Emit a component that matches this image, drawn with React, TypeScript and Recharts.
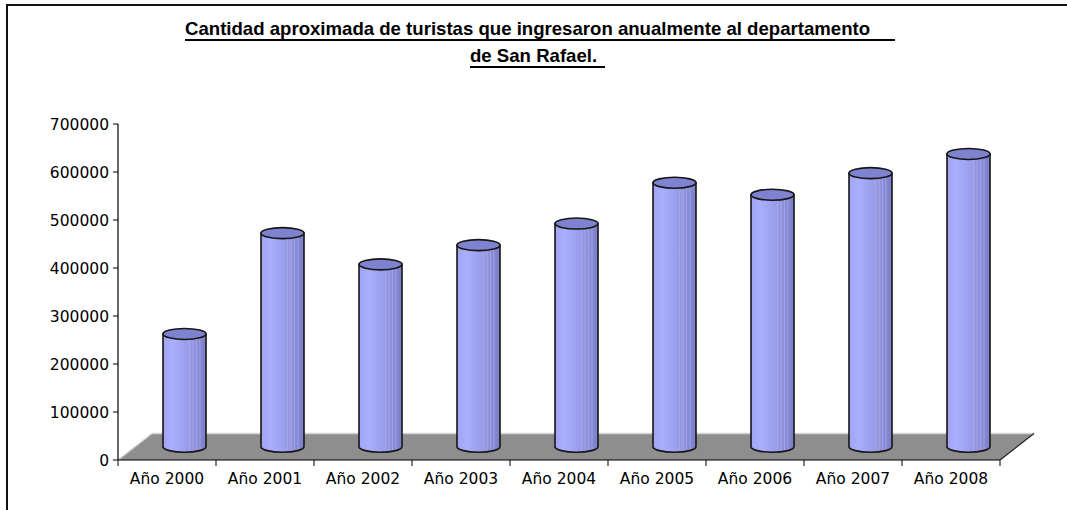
import React from "react";
import { BarChart, Bar, XAxis, YAxis } from "recharts";

const years = [
  "Año 2000",
  "Año 2001",
  "Año 2002",
  "Año 2003",
  "Año 2004",
  "Año 2005",
  "Año 2006",
  "Año 2007",
  "Año 2008",
];
const tourists = [235000, 445000, 380000, 420000, 465000, 550000, 525000, 570000, 610000];
const yTicks = [0, 100000, 200000, 300000, 400000, 500000, 600000, 700000];

const titleLine1 = "Cantidad aproximada de turistas que ingresaron anualmente al departamento";
const titleLine2 = "de San Rafael.";

const data = years.map((year, i) => ({ year, tourists: tourists[i] }));

// chart geometry
const W = 1067;
const H = 510;
const plotLeft = 118;
const plotRight = 1000;
const plotTop = 124;
const plotBottom = 460;
const band = (plotRight - plotLeft) / years.length;
// oblique depth of the floor (back edge offset)
const depthX = 34;
const depthY = -26.5;

const Cylinder = (props: any) => {
  const { x, y, width, height } = props;
  const dx = depthX / 2;
  const dy = depthY / 2;
  const left = x + dx;
  const right = x + width + dx;
  const top = y + dy;
  const bottom = y + height + dy;
  const rx = width / 2;
  const ry = 5.5;
  const cx = left + rx;
  const body = `M${left},${top} L${left},${bottom} A${rx},${ry} 0 0 0 ${right},${bottom} L${right},${top} Z`;
  return (
    <g>
      <path d={body} fill="url(#cylBody)" stroke="none" />
      {[0.62, 0.7, 0.78, 0.86].map((f) => (
        <line
          key={f}
          x1={left + width * f}
          x2={left + width * f}
          y1={top}
          y2={bottom + ry * 0.8}
          stroke="#b4b6f0"
          strokeWidth={0.8}
          opacity={0.7}
        />
      ))}
      <path d={body} fill="none" stroke="#161616" strokeWidth={1.6} />
      <ellipse cx={cx} cy={top} rx={rx} ry={ry} fill="#7f83cf" stroke="#161616" strokeWidth={1.6} />
    </g>
  );
};

const XTick = (props: any) => {
  const { x, y, payload, index } = props;
  return (
    <g>
      <line x1={x - band / 2} x2={x - band / 2} y1={plotBottom} y2={plotBottom + 6} stroke="#000" />
      {index === years.length - 1 ? (
        <line x1={x + band / 2} x2={x + band / 2} y1={plotBottom} y2={plotBottom + 6} stroke="#000" />
      ) : null}
      <text
        x={x}
        y={y + 16}
        textAnchor="middle"
        fontFamily="DejaVu Sans"
        fontSize={15.5}
        fill="#000"
      >
        {payload.value}
      </text>
    </g>
  );
};

const titleStyle: React.CSSProperties = {
  position: "absolute",
  fontFamily: "'Liberation Sans Narrow', 'Arial Narrow', 'Liberation Sans', Arial, sans-serif",
  fontWeight: "bold",
  fontSize: 18.6,
  lineHeight: "20px",
  whiteSpace: "pre",
  borderBottom: "2px solid #000",
};

export default function App() {
  const floor = `${plotLeft},${plotBottom} ${plotLeft + depthX},${plotBottom + depthY} ${plotRight + depthX},${plotBottom + depthY} ${plotRight},${plotBottom}`;
  return (
    <div style={{ position: "absolute", left: 0, top: 0, width: W, height: H, background: "#fff", overflow: "hidden" }}>
      <div
        style={{
          position: "absolute",
          left: 6,
          top: 4,
          width: W,
          height: H,
          borderLeft: "2px solid #111",
          borderTop: "2px solid #111",
        }}
      />
      <div style={{ ...titleStyle, left: 185, top: 19, paddingRight: 25 }}>{titleLine1}</div>
      <div style={{ ...titleStyle, left: 470, top: 46, paddingRight: 8 }}>{titleLine2}</div>
      <svg width={W} height={H} style={{ position: "absolute", left: 0, top: 0 }}>
        <polygon points={floor} fill="#8e8e8e" />
        <line x1={plotLeft} y1={plotBottom} x2={plotLeft + depthX} y2={plotBottom + depthY} stroke="#d4d4d4" strokeWidth={1.5} />
        <line
          x1={plotLeft + depthX}
          y1={plotBottom + depthY}
          x2={plotRight + depthX}
          y2={plotBottom + depthY}
          stroke="#d4d4d4"
          strokeWidth={1.5}
        />
        <line x1={plotRight} y1={plotBottom} x2={plotRight + depthX} y2={plotBottom + depthY} stroke="#222" strokeWidth={1.2} />
      </svg>
      <div style={{ position: "absolute", left: 0, top: 0 }}>
        <BarChart
          width={W}
          height={H}
          data={data}
          margin={{ top: plotTop, right: W - plotRight, bottom: 20, left: 4 }}
          barSize={43}
        >
          <defs>
            <linearGradient id="cylBody" x1="0" y1="0" x2="1" y2="0">
              <stop offset="0%" stopColor="#a0a4f0" />
              <stop offset="22%" stopColor="#aaaeff" />
              <stop offset="60%" stopColor="#989be6" />
              <stop offset="100%" stopColor="#7c7fc6" />
            </linearGradient>
          </defs>
          <XAxis
            dataKey="year"
            height={H - plotBottom - 20}
            axisLine={{ stroke: "#000", strokeWidth: 1.2 }}
            tickLine={false}
            tick={<XTick />}
            interval={0}
          />
          <YAxis
            width={plotLeft - 4}
            domain={[0, 700000]}
            ticks={yTicks}
            interval={0}
            axisLine={{ stroke: "#000", strokeWidth: 1.2 }}
            tickLine={{ stroke: "#000" }}
            tickSize={5}
            tickMargin={4}
            tick={{ fill: "#000", fontSize: 15.5, fontFamily: "DejaVu Sans" }}
          />
          <Bar dataKey="tourists" shape={<Cylinder />} isAnimationActive={false} />
        </BarChart>
      </div>
    </div>
  );
}
